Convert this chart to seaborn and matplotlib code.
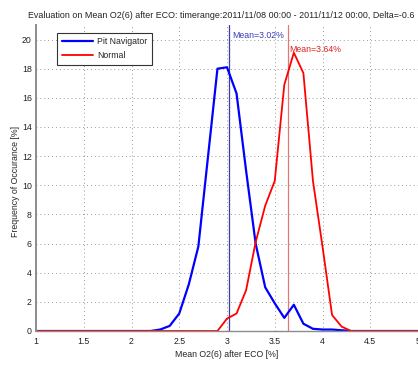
import matplotlib
matplotlib.use("Agg")
import matplotlib.pyplot as plt
import seaborn as sns
import pandas as pd

# -----------------------------
# Data
# -----------------------------
bins = [1.0, 1.1, 1.2, 1.3, 1.4, 1.5, 1.6, 1.7, 1.8, 1.9,
        2.0, 2.1, 2.2, 2.3, 2.4, 2.5, 2.6, 2.7, 2.8, 2.9,
        3.0, 3.1, 3.2, 3.3, 3.4, 3.5, 3.6, 3.7, 3.8, 3.9,
        4.0, 4.1, 4.2, 4.3, 4.4, 4.5, 4.6, 4.7, 4.8, 4.9, 5.0]

pit_navigator = [0, 0, 0, 0, 0, 0, 0, 0, 0, 0,
                 0, 0, 0.0, 0.1, 0.35, 1.2, 3.2, 5.8, 11.9, 18.0,
                 18.1, 16.3, 11.0, 6.0, 3.0, 1.9, 0.9, 1.8, 0.5, 0.15,
                 0.1, 0.1, 0.05, 0, 0, 0, 0, 0, 0, 0, 0]

normal = [0, 0, 0, 0, 0, 0, 0, 0, 0, 0,
          0, 0, 0, 0, 0, 0, 0, 0, 0, 0.0,
          0.85, 1.2, 2.8, 6.1, 8.6, 10.3, 16.9, 19.1, 17.7, 10.3,
          5.8, 1.1, 0.3, 0, 0, 0, 0, 0, 0, 0, 0]

mean_pit = 3.02
mean_normal = 3.64

x_ticks = [1, 1.5, 2, 2.5, 3, 3.5, 4, 4.5, 5]
x_tick_labels = ["1", "1.5", "2", "2.5", "3", "3.5", "4", "4.5", "5"]
y_ticks = [0, 2, 4, 6, 8, 10, 12, 14, 16, 18, 20]

title = ("Evaluation on Mean O2(6) after ECO: timerange:2011/11/08 00:00 - "
         "2011/11/12 00:00, Delta=-0.6")

df = pd.DataFrame({"bin": bins, "Pit Navigator": pit_navigator, "Normal": normal})

# -----------------------------
# Plot
# -----------------------------
sns.set_style("white")
plt.rcParams["font.family"] = ["Liberation Sans", "DejaVu Sans"]
FS = 6.3

fig = plt.figure(figsize=(4.18, 3.65), dpi=100)
ax = fig.add_axes([36 / 418, 34 / 365, 382 / 418, 306 / 365])

sns.lineplot(data=df, x="bin", y="Pit Navigator", ax=ax, color="#0000ff",
             linewidth=1.6, label="Pit Navigator")
sns.lineplot(data=df, x="bin", y="Normal", ax=ax, color="#ff0000",
             linewidth=1.3, label="Normal")

ax.axvline(mean_pit, color="#3a3aa8", linewidth=0.9, zorder=1)
ax.axvline(mean_normal, color="#e07878", linewidth=0.9, zorder=1)
ax.text(mean_pit + 0.03, 20.3, f"Mean={mean_pit:.2f}%", color="#3a3ac0",
        fontsize=FS, va="center", ha="left")
ax.text(mean_normal + 0.01, 19.3, f"Mean={mean_normal:.2f}%", color="#e02020",
        fontsize=FS, va="center", ha="left")

ax.set_xlim(1, 4.95)
ax.set_ylim(0, 21)
ax.set_xticks(x_ticks)
ax.set_xticklabels(x_tick_labels)
ax.set_yticks(y_ticks)
ax.tick_params(direction="in", length=3, width=0.6, labelsize=FS,
               colors="#222222")
ax.tick_params(axis="x", pad=4)
ax.tick_params(axis="y", pad=3)
ax.grid(True, color="#999999", linestyle=(0, (1, 3)), linewidth=0.7)

for side in ["top", "right"]:
    ax.spines[side].set_visible(False)
ax.spines["left"].set_color("#8c8c8c")
ax.spines["left"].set_linewidth(1.4)
ax.spines["bottom"].set_color("#8c8c8c")
ax.spines["bottom"].set_linewidth(1.0)

ax.set_xlabel("Mean O2(6) after ECO [%]", fontsize=FS, labelpad=3)
ax.set_ylabel("Frequency of Occurance [%]", fontsize=FS)
ax.yaxis.set_label_coords(-0.042, 0.49)

leg = ax.legend(loc="upper left", bbox_to_anchor=(0.055, 0.975), fontsize=FS,
                frameon=True, fancybox=False, borderpad=0.55, handlelength=3.6,
                handletextpad=0.4, labelspacing=0.55, borderaxespad=0)
leg.get_frame().set_edgecolor("#333333")
leg.get_frame().set_linewidth(0.8)
leg.get_frame().set_facecolor("white")
leg.get_frame().set_alpha(1)

fig.text(28 / 418, 1 - 15 / 365, title, ha="left", va="center", fontsize=6.4,
         color="#222222")

fig.savefig("out.png", dpi=100, facecolor="white")
